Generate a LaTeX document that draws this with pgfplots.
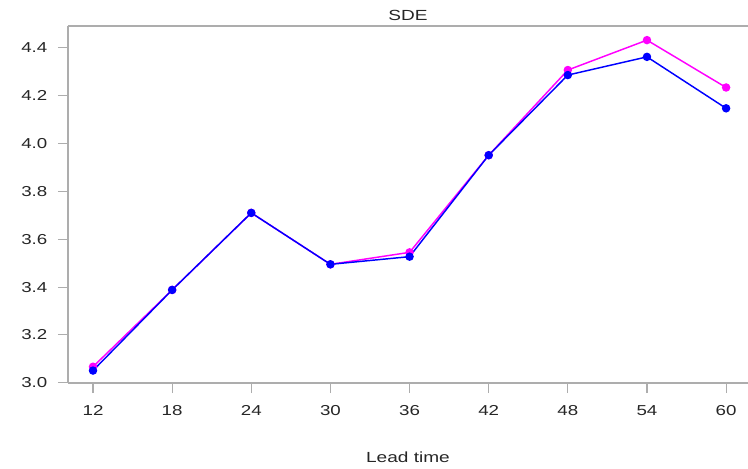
\documentclass[border=0pt]{standalone}
\usepackage{fontspec}
\setmainfont[FakeStretch=1.3]{Liberation Sans}
\usepackage{pgfplots}
\pgfplotsset{compat=1.18}
\definecolor{axgray}{gray}{0.68}
\definecolor{txt}{gray}{0.15}
\definecolor{mag}{RGB}{255,0,255}
\definecolor{blu}{RGB}{0,0,255}
\begin{document}
\begin{tikzpicture}
\useasboundingbox (-51pt,-63.75pt) rectangle (510pt,287.25pt);
\begin{axis}[
  scale only axis,
  width=510pt, height=267.75pt,
  xmin=10.104, xmax=61.66,
  ymin=2.999, ymax=4.491,
  axis x line*=bottom, axis y line*=left,
  axis line style={axgray, line width=0.8pt, -},
  xtick={12,18,24,30,36,42,48,54,60},
  ytick={3.0,3.2,3.4,3.6,3.8,4.0,4.2,4.4},
  yticklabel style={/pgf/number format/fixed, /pgf/number format/fixed zerofill, /pgf/number format/precision=1},
  /pgf/number format/assume math mode=true,
  tick align=outside,
  major tick length=7.5pt,
  tick style={axgray, line width=0.8pt},
  ticklabel style={font=\fontsize{10.8pt}{12pt}\selectfont, text=txt},
  xticklabel style={anchor=base, yshift=-17pt},
  yticklabel style={anchor=east, xshift=-4.5pt},
  xlabel={Lead time},
  xlabel style={at={(rel axis cs:0.5,0)}, anchor=center, yshift=-56pt, font=\fontsize{11pt}{13pt}\selectfont, text=txt},
  clip=false,
]
\addplot[mag, line width=1.1pt, mark=*, mark size=2.6pt, mark options={solid, fill=mag}] coordinates {
  (12,3.067) (18,3.388) (24,3.710) (30,3.495) (36,3.545) (42,3.951) (48,4.307) (54,4.432) (60,4.234)
};
\addplot[blu, line width=1.1pt, mark=*, mark size=2.6pt, mark options={solid, fill=blu}] coordinates {
  (12,3.051) (18,3.388) (24,3.710) (30,3.495) (36,3.527) (42,3.951) (48,4.286) (54,4.362) (60,4.147)
};
\draw[axgray, line width=0.8pt] (rel axis cs:0,1) -- (rel axis cs:1,1);
\node[font=\fontsize{11pt}{13pt}\selectfont, text=txt, anchor=base, yshift=4.5pt] at (rel axis cs:0.5,1) {SDE};
\end{axis}
\end{tikzpicture}
\end{document}
